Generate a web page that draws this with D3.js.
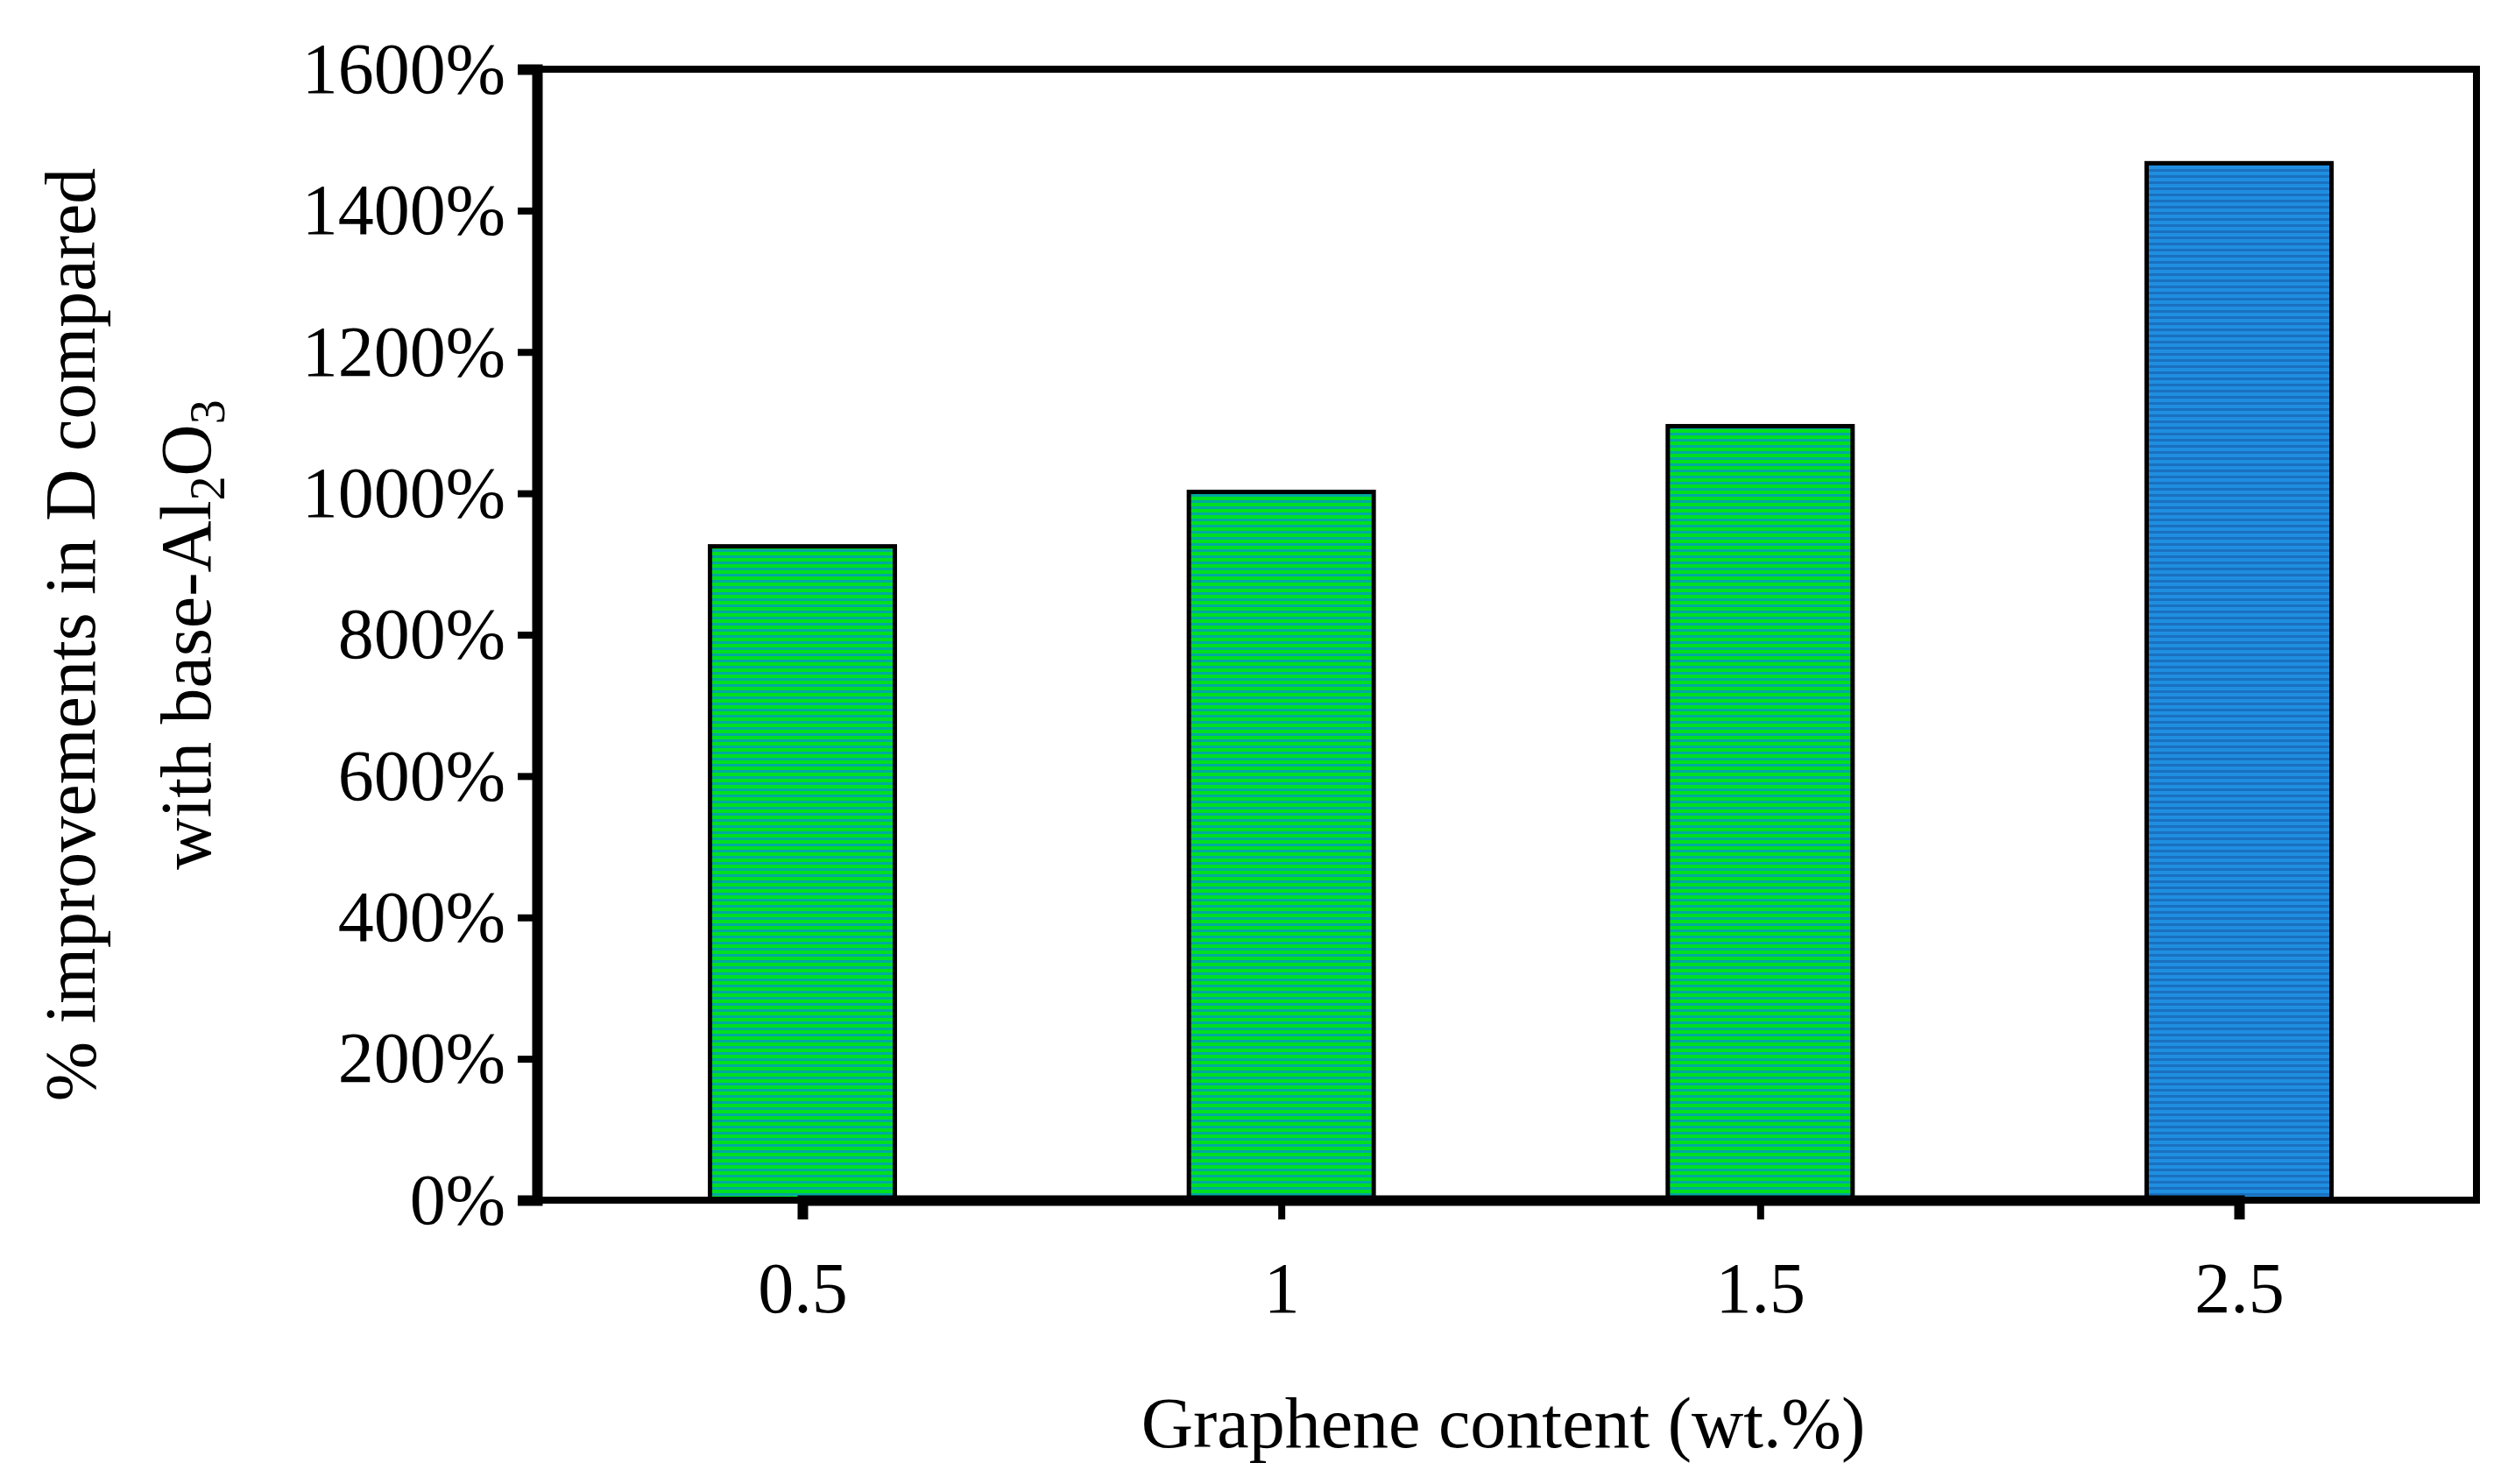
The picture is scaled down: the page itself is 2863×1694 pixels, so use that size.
<!DOCTYPE html>
<html><head><meta charset="utf-8">
<script src="https://cdn.jsdelivr.net/npm/d3@7"></script>
<style>body{margin:0;background:#fff}text{font-family:"Liberation Serif","Times New Roman",serif}</style>
</head><body><div id="chart"></div>
<script>
const categories = ["0.5", "1", "1.5", "2.5"]
const values = [925, 1002, 1095, 1467]
const yTicks = [0, 200, 400, 600, 800, 1000, 1200, 1400, 1600]

const W = 2863, H = 1694
const L = 613, R = 2827, T = 79, B = 1370

const svg = d3.select("#chart").append("svg").attr("width", W).attr("height", H)
const defs = svg.append("defs")
function stripes(id, a, b) {
  const p = defs.append("pattern").attr("id", id).attr("patternUnits", "userSpaceOnUse")
    .attr("width", 10).attr("height", 7)
  p.append("rect").attr("width", 10).attr("height", 7).attr("fill", a)
  p.append("rect").attr("y", 4).attr("width", 10).attr("height", 3).attr("fill", b)
}
stripes("g", "#00e020", "#00a8a0")
stripes("b", "#1f8ee0", "#1a70c0")

const x = d3.scalePoint().domain(categories).range([916, 2556])
const y = d3.scaleLinear().domain([0, 1600]).range([B, T])
const bw = 211

svg.selectAll("rect.bar").data(values).enter().append("rect")
  .attr("class", "bar")
  .attr("x", (d, i) => x(categories[i]) - bw / 2)
  .attr("y", d => y(d))
  .attr("width", bw)
  .attr("height", d => B - y(d))
  .attr("fill", (d, i) => i === 3 ? "url(#b)" : "url(#g)")
  .attr("stroke", "#000").attr("stroke-width", 5)

// frame
svg.append("rect").attr("x", L).attr("y", T).attr("width", R - L).attr("height", B - T)
  .attr("fill", "none").attr("stroke", "#000").attr("stroke-width", 8)

const yAxis = svg.append("g").attr("transform", `translate(${L},0)`)
  .call(d3.axisLeft(y).tickValues(yTicks).tickSize(22).tickPadding(14).tickFormat(d => d + "%"))
const xAxis = svg.append("g").attr("transform", `translate(0,${B})`)
  .call(d3.axisBottom(x).tickSize(22).tickPadding(40))
for (const a of [yAxis, xAxis]) {
  a.select(".domain").attr("stroke-width", 12)
  a.selectAll(".tick line").attr("stroke-width", 8)
  a.selectAll("text").attr("font-size", 82).attr("font-family", "Liberation Serif").attr("fill", "#000")
}
xAxis.selectAll("text").attr("dy", "0.8em")

svg.append("text").attr("x", 1716).attr("y", 1652).attr("text-anchor", "middle")
  .attr("font-size", 82).text("Graphene  content  (wt.%)")

const yl = svg.append("g").attr("transform", "rotate(-90)")
yl.append("text").attr("x", -(T + B) / 2).attr("y", 108).attr("text-anchor", "middle")
  .attr("font-size", 82).text("% improvements   in D compared")
const t2 = yl.append("text").attr("x", -(T + B) / 2).attr("y", 240).attr("text-anchor", "middle")
  .attr("font-size", 82)
t2.append("tspan").text("with base-Al")
t2.append("tspan").attr("font-size", 56).attr("dy", 16).text("2")
t2.append("tspan").attr("dy", -16).text("O")
t2.append("tspan").attr("font-size", 56).attr("dy", 16).text("3")
</script></body></html>
